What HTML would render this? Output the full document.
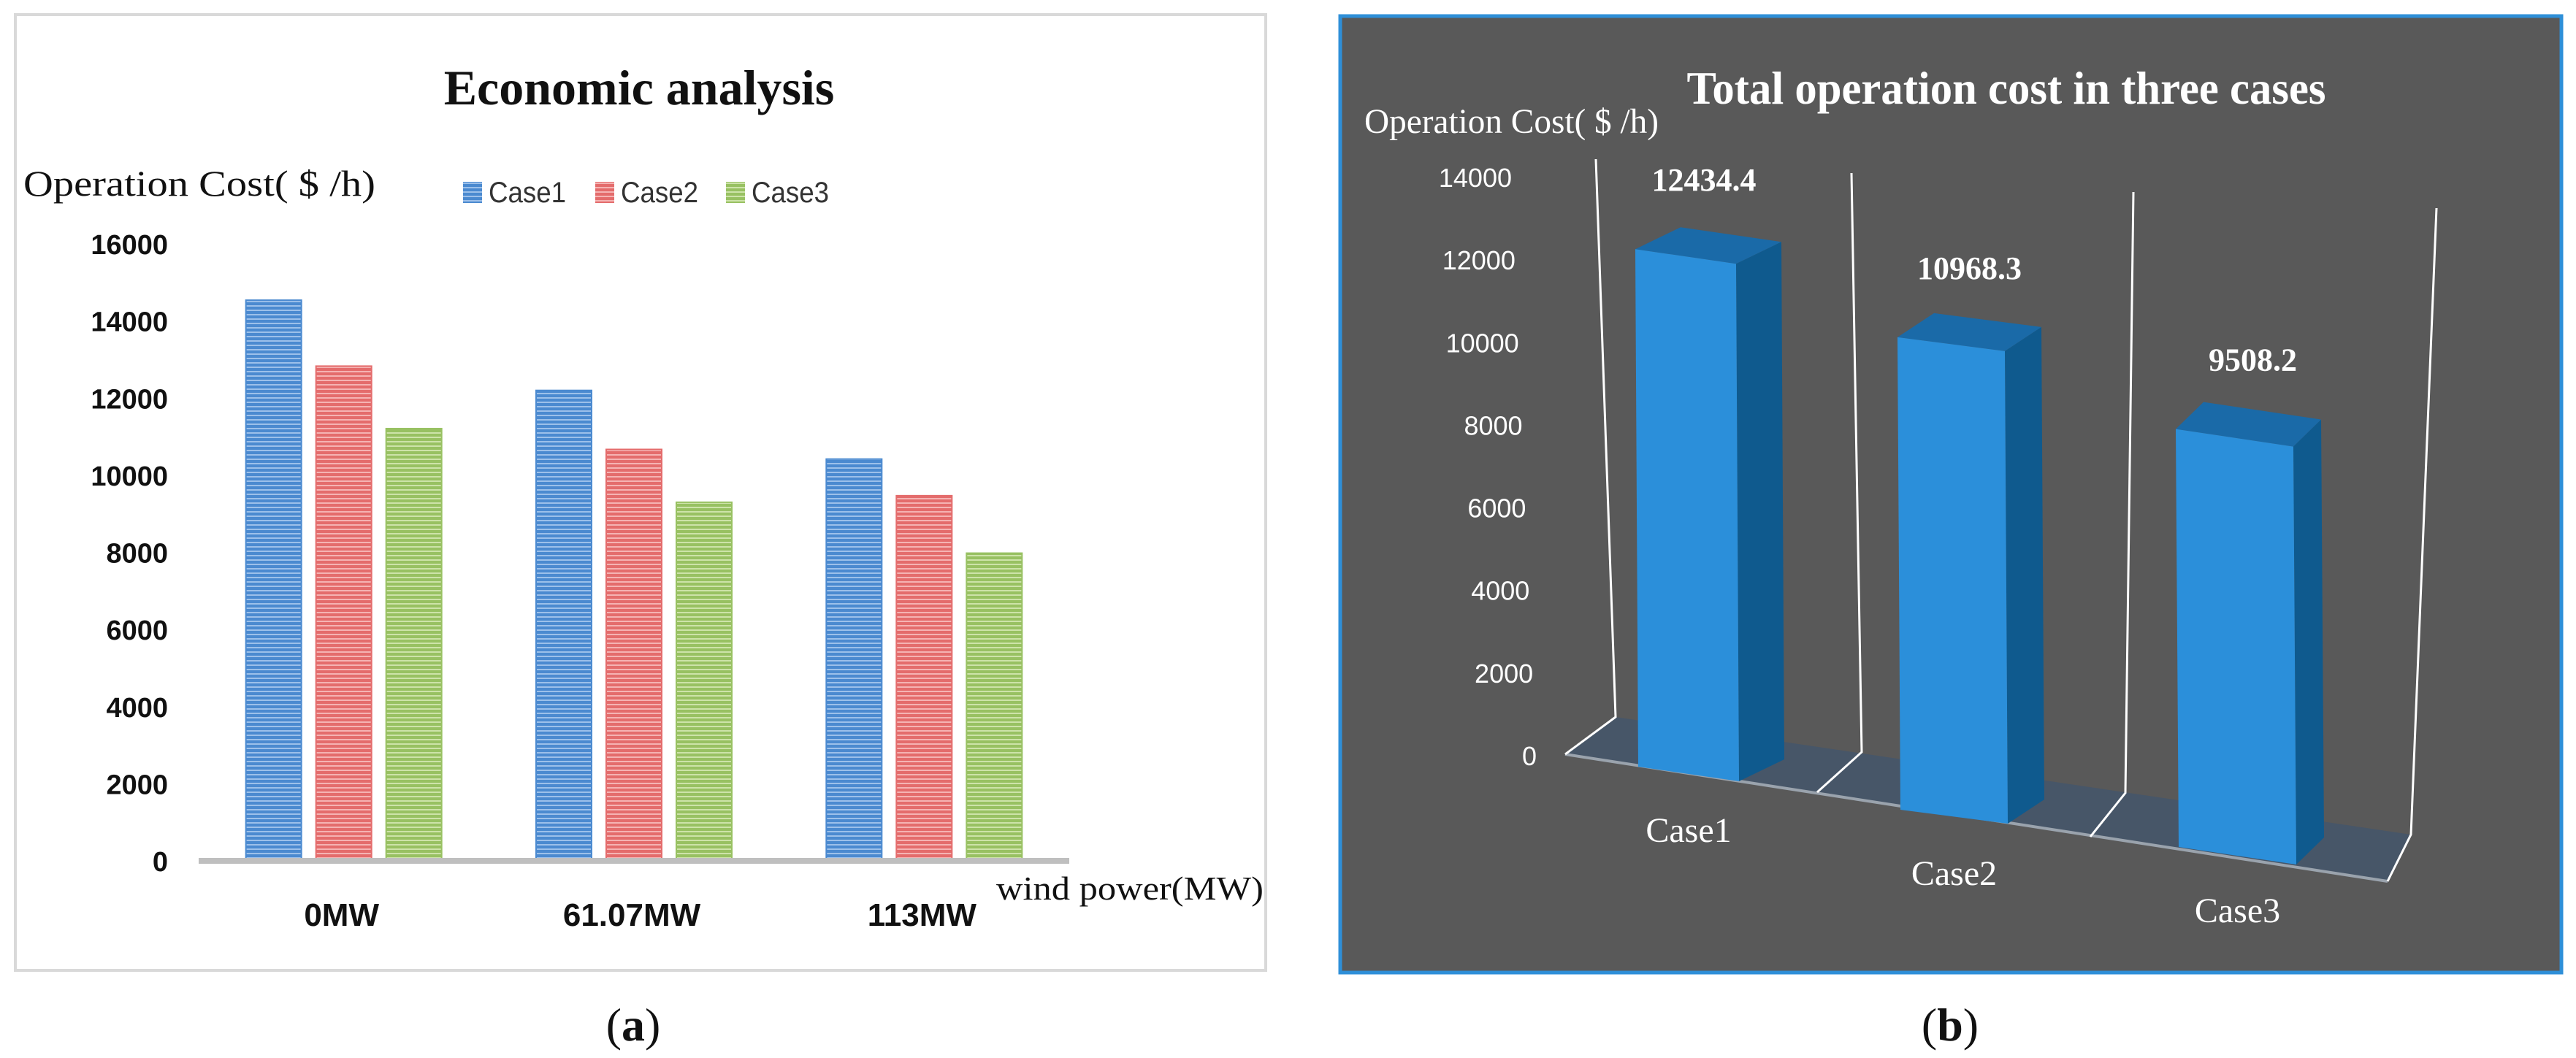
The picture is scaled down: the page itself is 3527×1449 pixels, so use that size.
<!DOCTYPE html>
<html><head><meta charset="utf-8">
<style>
html,body{margin:0;padding:0;background:#fff;}
body{width:3527px;height:1449px;overflow:hidden;position:relative;}
svg{position:absolute;left:0;top:0;}
</style></head>
<body>
<svg id="chart" width="3527" height="1449" viewBox="0 0 3527 1449" xmlns="http://www.w3.org/2000/svg">
<defs>
<pattern id="pBlue" width="10" height="6" patternUnits="userSpaceOnUse"><rect width="10" height="6" fill="#4b8ad0"/><rect y="4" width="10" height="2" fill="#9cc0ea"/></pattern>
<pattern id="pRed" width="10" height="6" patternUnits="userSpaceOnUse"><rect width="10" height="6" fill="#e46c6c"/><rect y="4" width="10" height="2" fill="#f5b3b3"/></pattern>
<pattern id="pGreen" width="10" height="6" patternUnits="userSpaceOnUse"><rect width="10" height="6" fill="#98c162"/><rect y="4" width="10" height="2" fill="#cde3a9"/></pattern>
</defs>
<g id="panelA">
<rect x="21" y="20" width="1712" height="1309" fill="#fff" stroke="#d9d9d9" stroke-width="4"/>
<text x="875" y="143" text-anchor="middle" font-family="Liberation Serif, serif" font-size="68" font-weight="bold" fill="#111">Economic analysis</text>
<text x="32" y="268" font-family="Liberation Serif, serif" font-size="50" fill="#111" textLength="482" lengthAdjust="spacingAndGlyphs">Operation Cost( $ /h)</text>
<g id="legendA"></g>
<g id="ticksA"></g>
<g id="barsA"></g>
<rect x="272" y="1175" width="1192" height="8" fill="#bfbfbf"/>
<g id="catsA"></g>
<text x="1364" y="1232" font-family="Liberation Serif, serif" font-size="46" fill="#111" textLength="366" lengthAdjust="spacingAndGlyphs">wind power(MW)</text>
</g>
<text x="867" y="1425" text-anchor="middle" font-family="Liberation Serif, serif" font-size="64" fill="#111">(<tspan font-weight="bold">a</tspan>)</text>

<g id="panelB">
<rect x="1835" y="22" width="1672" height="1310" fill="#595959" stroke="#2e8fd8" stroke-width="5"/>
<text x="2747" y="142" text-anchor="middle" font-family="Liberation Serif, serif" font-size="64" font-weight="bold" fill="#fff" textLength="875" lengthAdjust="spacingAndGlyphs">Total operation cost in three cases</text>
<text x="1868" y="182" font-family="Liberation Serif, serif" font-size="48" fill="#fff" textLength="403" lengthAdjust="spacingAndGlyphs">Operation Cost( $ /h)</text>
<polygon points="2212,982 3301,1143 3269,1207 2143,1033" fill="#475668"/>
<line x1="2143" y1="1033" x2="3269" y2="1207" stroke="#9aa3ad" stroke-width="4"/>
<g id="wallsB" stroke="#fff" stroke-width="3" fill="none"></g>
<g id="ticksB"></g>
<g id="barsB"></g>
<g id="catsB"></g>
</g>
<text x="2670" y="1425" text-anchor="middle" font-family="Liberation Serif, serif" font-size="64" fill="#111">(<tspan font-weight="bold">b</tspan>)</text>
</svg>
<script>
// ---- Chart A data ----
const catsA = ["0MW", "61.07MW", "113MW"];
const seriesNames = ["Case1", "Case2", "Case3"];
const case1 = [14540, 12200, 10420];
const case2 = [12830, 10670, 9470];
const case3 = [11210, 9300, 7980];
const ticksA = [0, 2000, 4000, 6000, 8000, 10000, 12000, 14000, 16000];
// ---- Chart B data ----
const catsB = ["Case1", "Case2", "Case3"];
const totals = [12434.4, 10968.3, 9508.2];
const totalLabels = ["12434.4", "10968.3", "9508.2"];
const ticksB = [0, 2000, 4000, 6000, 8000, 10000, 12000, 14000];

const NS = "http://www.w3.org/2000/svg";
function mk(tag, attrs, parent, text) {
  const e = document.createElementNS(NS, tag);
  for (const k in attrs) e.setAttribute(k, attrs[k]);
  if (text !== undefined) e.textContent = text;
  parent.appendChild(e);
  return e;
}
// Chart A axes
const yA = v => 1179 - v * (1179 - 334) / 16000;
const groupW = 1192 / catsA.length;
const xA = i => 272 + groupW * (i + 0.5);
const fills = ["url(#pBlue)", "url(#pRed)", "url(#pGreen)"];
const swatch = ["#4b8ad0", "#e46c6c", "#98c162"];
const gT = document.getElementById("ticksA");
ticksA.forEach(t => {
  const el = mk("text", {x: 230, y: yA(t) + 14, "text-anchor": "end", "font-family": "Liberation Sans, sans-serif", "font-size": 38, "font-weight": "bold", fill: "#111"}, gT, String(t));
  
  
});
const gB = document.getElementById("barsA");
const allSeries = [case1, case2, case3];
allSeries.forEach((s, si) => {
  s.forEach((v, ci) => {
    const cx = xA(ci) + (si - 1) * 96;
    const r = mk("rect", {x: cx - 38, y: yA(v), width: 76, height: yA(0) - yA(v), fill: fills[si], stroke: swatch[si], "stroke-width": 2}, gB);
    
    
  });
});
const gC = document.getElementById("catsA");
catsA.forEach((c, i) => {
  const t = mk("text", {x: xA(i) - 3, y: 1268, "text-anchor": "middle", "font-family": "Liberation Sans, sans-serif", "font-size": 44, "font-weight": "bold", fill: "#111"}, gC, c);
  
  
});
const gL = document.getElementById("legendA");
const legX = [634, 815, 994];
seriesNames.forEach((n, i) => {
  const s = mk("rect", {x: legX[i], y: 249, width: 26, height: 29, fill: fills[i]}, gL);
  
  
  const t = mk("text", {x: legX[i] + 35, y: 277, "font-family": "Liberation Sans, sans-serif", "font-size": 40, fill: "#333", textLength: 106, lengthAdjust: "spacingAndGlyphs"}, gL, n);
  
  
});

// Chart B
const y0B = 1035, topB = 243;
const yB = v => y0B - v * (y0B - topB) / 14000;
const xB = v => 2104 - 34 * v / 14000;
const gTB = document.getElementById("ticksB");
ticksB.forEach(t => {
  const el = mk("text", {x: xB(t), y: yB(t) + 13, "text-anchor": "end", "font-family": "Liberation Sans, sans-serif", "font-size": 36, fill: "#fff"}, gTB, String(t));
  
  
});
const gW = document.getElementById("wallsB");
const walls = [[2185,218,2212,982,2143,1033],[2535,237,2549,1030,2488,1085],[2921,263,2910,1086,2862,1146],[3336,285,3301,1143,3269,1207]];
walls.forEach(w => {
  const p = mk("polyline", {points: `${w[0]},${w[1]} ${w[2]},${w[3]} ${w[4]},${w[5]}`}, gW);
  
  
});
// bar geometry (layout only): front-bottom-left, front-bottom-right, depth offset, px per unit
const barGeom = [
  {bl:[2243,1050], br:[2381,1070], d:[62,-30], k:0.0570},
  {bl:[2602,1109], br:[2749,1128], d:[50,-33], k:0.0590},
  {bl:[2983,1160], br:[3144,1184], d:[38,-37], k:0.0602}
];
const gBB = document.getElementById("barsB");
const gCB = document.getElementById("catsB");
totals.forEach((v, i) => {
  const g = barGeom[i], h = v * g.k;
  const tl = [g.bl[0] - 4, g.bl[1] - h], tr = [g.br[0] - 4, g.br[1] - h];
  const side = mk("polygon", {points: `${tr[0]},${tr[1]} ${tr[0]+g.d[0]},${tr[1]+g.d[1]} ${g.br[0]+g.d[0]},${g.br[1]+g.d[1]} ${g.br[0]},${g.br[1]}`, fill: "#0f5a8e"}, gBB);
  
  
  const top = mk("polygon", {points: `${tl[0]},${tl[1]} ${tl[0]+g.d[0]},${tl[1]+g.d[1]} ${tr[0]+g.d[0]},${tr[1]+g.d[1]} ${tr[0]},${tr[1]}`, fill: "#1a6aa8"}, gBB);
  
  
  const front = mk("polygon", {points: `${tl[0]},${tl[1]} ${tr[0]},${tr[1]} ${g.br[0]},${g.br[1]} ${g.bl[0]},${g.bl[1]}`, fill: "#2b8fda"}, gBB);
  
  
  const lab = mk("text", {x: (tl[0] + tr[0]) / 2 + 25, y: tl[1] - 80, "text-anchor": "middle", "font-family": "Liberation Serif, serif", "font-size": 44, "font-weight": "bold", fill: "#fff"}, gBB, totalLabels[i]);
  
  
  const c = mk("text", {x: (g.bl[0] + g.br[0]) / 2 , y: g.bl[1] + 103, "text-anchor": "middle", "font-family": "Liberation Serif, serif", "font-size": 48, fill: "#fff"}, gCB, catsB[i]);
  
  
});
</script>
</body></html>
